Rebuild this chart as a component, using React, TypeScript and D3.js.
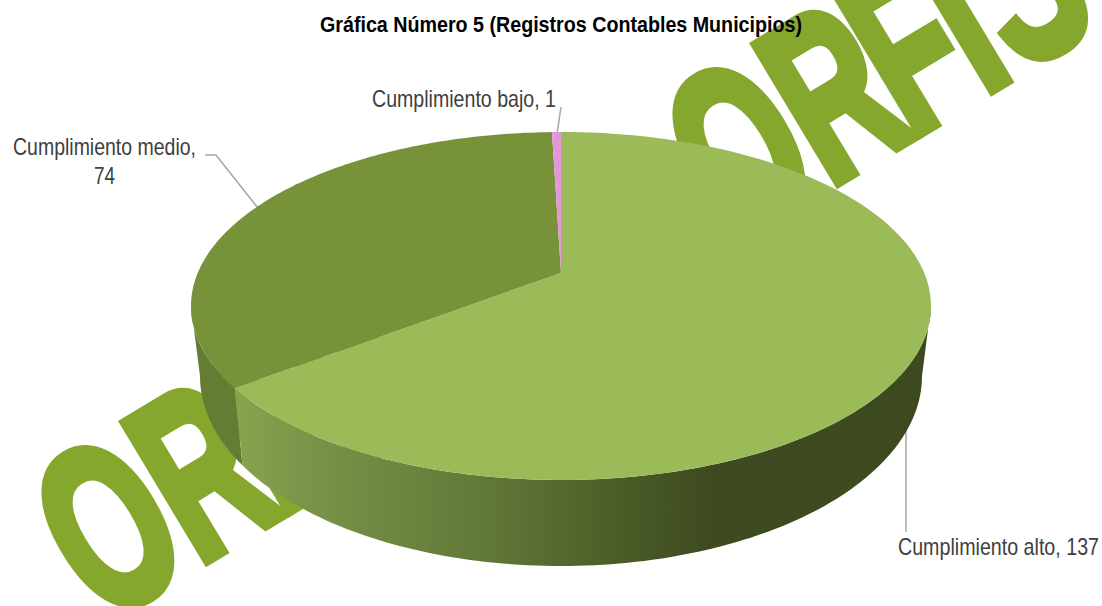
import React from 'react'
import * as d3 from 'd3'

const categories = ['Cumplimiento alto', 'Cumplimiento medio', 'Cumplimiento bajo']
const values = [137, 74, 1]
const topColors = ['#9bbb59', '#78923a', '#e396dc']
const title = 'Gráfica Número 5 (Registros Contables Municipios)'
const watermark = 'ORFIS'

const width = 1102
const height = 606
const labelFont = '"Liberation Sans", sans-serif'

// the tilted disc: both rims are ellipses, the hub sits above the centre of the top one
const topRim = {cx: 561, cy: 306, rx: 370, ry: 174}
const bottomRim = {cx: 561, cy: 376, rx: 361, ry: 190}
const tilt = 0.19

type Rim = typeof topRim

const project = (angle: number, rim: Rim): [number, number] => {
  const u = Math.sin(angle)
  const v = Math.cos(angle)
  const d = 1 + tilt * v
  return [
    rim.cx + rim.rx * u * Math.sqrt(1 - tilt * tilt) / d,
    rim.cy - rim.ry * (v + tilt) / d,
  ]
}

const hub: [number, number] = [topRim.cx, topRim.cy - topRim.ry * tilt]
const line = d3.line()

const angleSteps = (a0: number, a1: number) => {
  const scale = d3.scaleLinear().domain([0, 120]).range([a0, a1])
  return d3.range(121).map(i => scale(i))
}

const slicePath = (a0: number, a1: number) =>
  line([hub, ...angleSteps(a0, a1).map(a => project(a, topRim))]) + 'Z'

const wallPath = (a0: number, a1: number) =>
  line([
    ...angleSteps(a0, a1).map(a => project(a, topRim)),
    ...angleSteps(a1, a0).map(a => project(a, bottomRim)),
  ]) + 'Z'

const arcs = d3.pie<number>().sort(null)(values)
const rightEdge = Math.acos(-tilt)
const leftEdge = 2 * Math.PI - rightEdge

const Watermark = ({x, y}: {x: number; y: number}) => (
  <text
    transform={`translate(${x},${y}) rotate(-31) scale(0.62,1)`}
    x="-193 -12 142 278 349"
    fontFamily={labelFont}
    fontWeight="bold"
    fontSize={232}
    fill="#86a72d"
    stroke="#86a72d"
    strokeWidth={11}
  >
    {watermark}
  </text>
)

const App = () => {
  return (
    <svg
      width={width}
      height={height}
      style={{position: 'absolute', left: 0, top: 0, display: 'block', background: '#fff'}}
    >
      <defs>
        <linearGradient id="wallFront" gradientUnits="userSpaceOnUse" x1={237} x2={931} y1={0} y2={0}>
          <stop offset="0" stopColor="#88a44e" />
          <stop offset="0.1" stopColor="#7a9449" />
          <stop offset="0.38" stopColor="#5f7536" />
          <stop offset="0.52" stopColor="#4f6029" />
          <stop offset="0.68" stopColor="#3e4b21" />
          <stop offset="1" stopColor="#3d4a20" />
        </linearGradient>
      </defs>

      <Watermark x={204} y={562} />
      <Watermark x={835} y={184} />

      <g fill="none" stroke="#a6a6a6" strokeWidth={1.5}>
        <path d={line([[906, 425], [906, 532]]) as string} />
        <path d={line([[205, 155], [216, 155], [258, 208]]) as string} />
        <path d={line([[561, 107], [557, 134]]) as string} />
      </g>

      <path d={wallPath(arcs[0].endAngle, leftEdge)} fill="#647d33" />
      <path d={wallPath(rightEdge, arcs[0].endAngle)} fill="url(#wallFront)" />
      {arcs.map((d, i) => (
        <path key={categories[i]} d={slicePath(d.startAngle, d.endAngle)} fill={topColors[i]} />
      ))}

      <text x={320} y={32} textLength={482} lengthAdjust="spacingAndGlyphs" fontFamily={labelFont} fontWeight="bold" fontSize={22} fill="#000">
        {title}
      </text>

      <g fontFamily={labelFont} fontSize={24} fill="#404040">
        <text x={898} y={555} textLength={201} lengthAdjust="spacingAndGlyphs">{`${categories[0]}, ${values[0]}`}</text>
        <text x={13} y={155} textLength={183} lengthAdjust="spacingAndGlyphs">{`${categories[1]},`}</text>
        <text x={94} y={184} textLength={21} lengthAdjust="spacingAndGlyphs">{values[1]}</text>
        <text x={372} y={107} textLength={184} lengthAdjust="spacingAndGlyphs">{`${categories[2]}, ${values[2]}`}</text>
      </g>
    </svg>
  )
}

export default App
